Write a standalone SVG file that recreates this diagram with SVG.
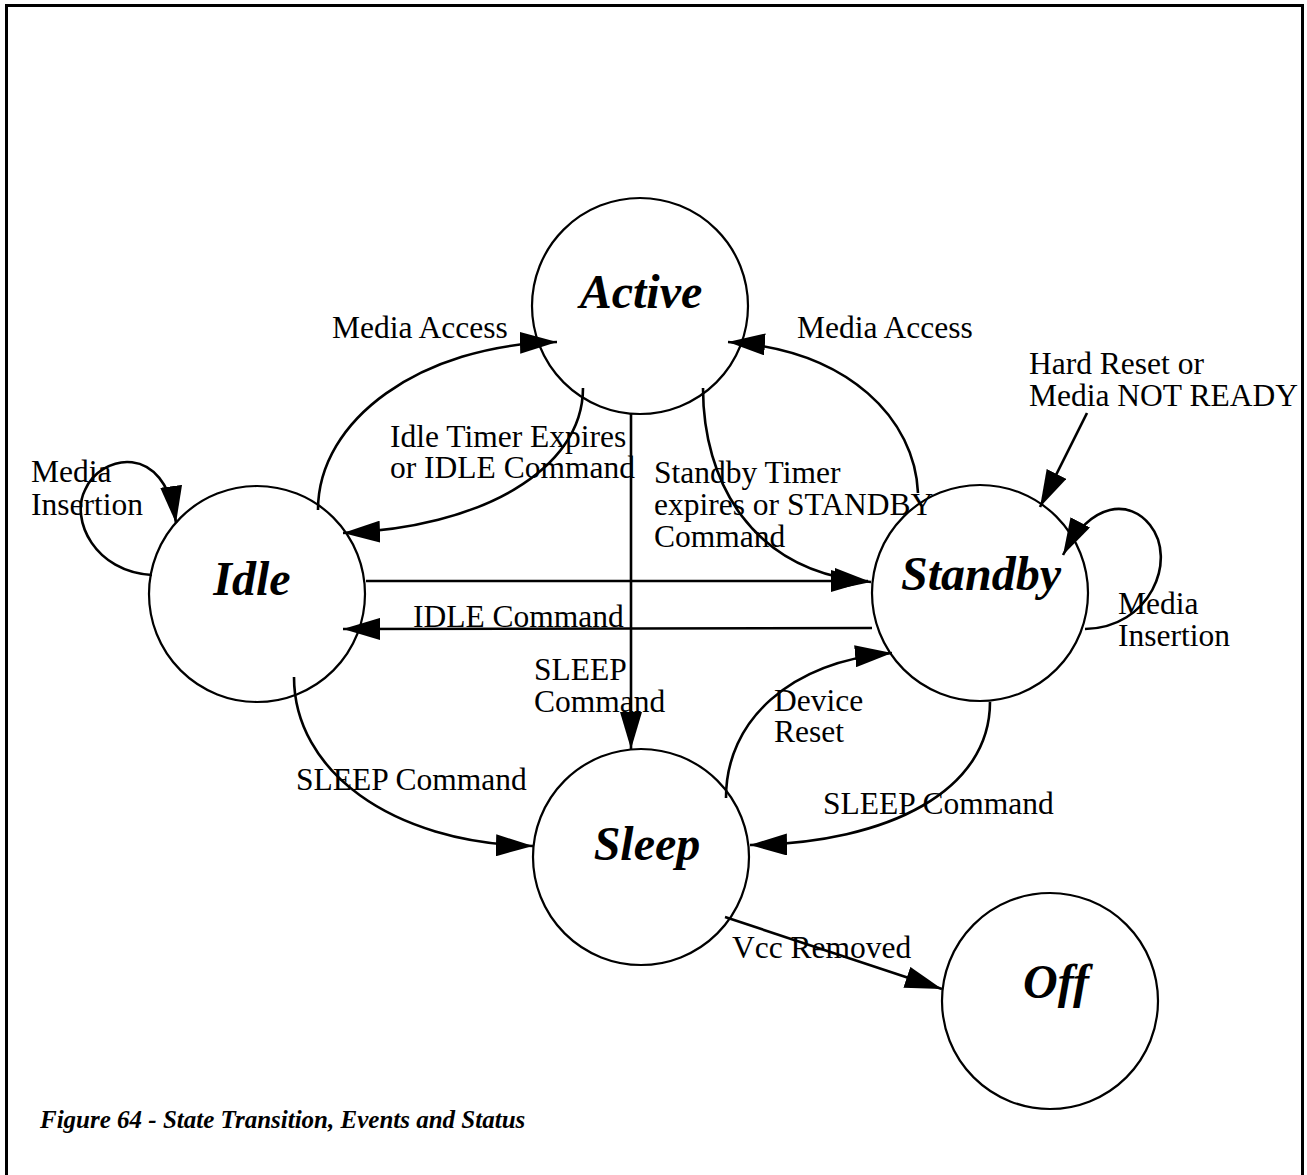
<svg xmlns="http://www.w3.org/2000/svg" width="1307" height="1175" viewBox="0 0 1307 1175">
  <style>
    .state { fill: #fff; stroke: #000; stroke-width: 2.2; }
    .name { font-family: "Liberation Serif", "Times New Roman", serif; font-weight: bold; font-style: italic; font-size: 48px; fill: #000; text-anchor: middle; }
    .lbl { font-family: "Liberation Serif", "Times New Roman", serif; font-size: 31.5px; fill: #000; }
    .edge { fill: none; stroke: #000; stroke-width: 2.6; marker-end: url(#head); }
    .caption { font-family: "Liberation Serif", "Times New Roman", serif; font-weight: bold; font-style: italic; font-size: 25px; fill: #000; }
  </style>
  <defs>
    <marker id="head" viewBox="0 0 37 22" refX="37" refY="11" markerWidth="37" markerHeight="22" markerUnits="userSpaceOnUse" orient="auto">
      <path d="M0,0 L37,11 L0,22 Z" fill="#000"/>
    </marker>
  </defs>

  <rect width="1307" height="1175" fill="#fff"/>
  <!-- frame -->
  <rect x="6.5" y="5.5" width="1296" height="1200" fill="none" stroke="#000" stroke-width="3"/>

  <!-- states -->
  <g id="active">
    <circle class="state" cx="640" cy="306" r="108"/>
    <text class="name" x="641" y="308">Active</text>
  </g>
  <g id="idle">
    <circle class="state" cx="257" cy="594" r="108"/>
    <text class="name" x="252" y="595">Idle</text>
  </g>
  <g id="standby">
    <circle class="state" cx="980" cy="593" r="108"/>
    <text class="name" x="981" y="590">Standby</text>
  </g>
  <g id="sleep">
    <circle class="state" cx="641" cy="857" r="108"/>
    <text class="name" x="647" y="860">Sleep</text>
  </g>
  <g id="off">
    <circle class="state" cx="1050" cy="1001" r="108"/>
    <text class="name" x="1056" y="998">Off</text>
  </g>

  <!-- transitions -->
  <g id="connectors">
    <path class="edge" d="M318,510 C318,420 420,345 557,342"/>
    <path class="edge" d="M583,388 C583,470 480,528 343,533"/>
    <path class="edge" d="M631,413 L631,749"/>
    <path class="edge" d="M703,388 C703,480 750,572 871,582"/>
    <path class="edge" d="M918,493 C915,420 850,350 728,342"/>
    <path class="edge" d="M366,581 L868,581"/>
    <path class="edge" d="M872,628 L343,629"/>
    <path class="edge" d="M1087,413 L1040,507"/>
    <path class="edge" d="M1085,629 C1150,628 1178,560 1150,525 C1130,500 1092,500 1063,555"/>
    <path class="edge" d="M152,575 C95,572 70,520 85,490 C100,455 165,440 176,523"/>
    <path class="edge" d="M294,677 C294,770 390,843 533,846"/>
    <path class="edge" d="M726,798 C726,720 790,662 892,653"/>
    <path class="edge" d="M990,702 C990,790 890,843 750,845"/>
    <path class="edge" d="M725,917 L942,989"/>
  </g>

  <!-- event labels -->
  <g id="labels">
    <text class="lbl" x="332" y="338">Media Access</text>
    <text class="lbl" x="797" y="338">Media Access</text>
    <text class="lbl" x="390" y="447">Idle Timer Expires</text>
    <text class="lbl" x="390" y="478">or IDLE Command</text>
    <text class="lbl" x="31" y="482">Media</text>
    <text class="lbl" x="31" y="515">Insertion</text>
    <text class="lbl" x="654" y="483">Standby Timer</text>
    <text class="lbl" x="654" y="515">expires or STANDBY</text>
    <text class="lbl" x="654" y="547">Command</text>
    <text class="lbl" x="1029" y="374">Hard Reset or</text>
    <text class="lbl" x="1029" y="406">Media NOT READY</text>
    <text class="lbl" x="1118" y="614">Media</text>
    <text class="lbl" x="1118" y="646">Insertion</text>
    <text class="lbl" x="413" y="627">IDLE Command</text>
    <text class="lbl" x="534" y="680">SLEEP</text>
    <text class="lbl" x="534" y="712">Command</text>
    <text class="lbl" x="296" y="790">SLEEP Command</text>
    <text class="lbl" x="774" y="711">Device</text>
    <text class="lbl" x="774" y="742">Reset</text>
    <text class="lbl" x="823" y="814">SLEEP Command</text>
    <text class="lbl" x="732" y="958">Vcc Removed</text>
  </g>

  <text class="caption" x="40" y="1128">Figure 64 - State Transition, Events and Status</text>
</svg>
